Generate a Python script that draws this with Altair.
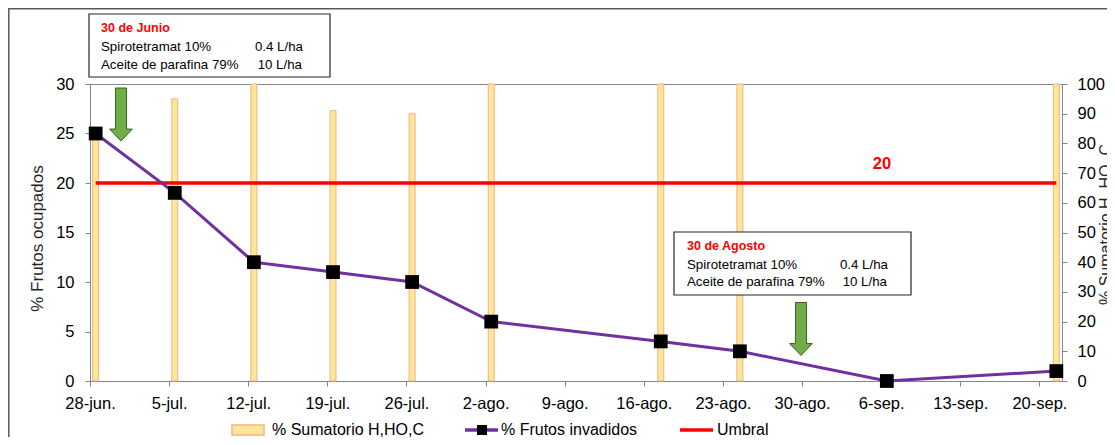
import json
import altair as alt
import pandas as pd

# ---------------- data ----------------
fechas = ["2023-06-28", "2023-07-05", "2023-07-12", "2023-07-19", "2023-07-26",
          "2023-08-02", "2023-08-17", "2023-08-24", "2023-09-06", "2023-09-21"]
frutos_invadidos = [25, 19, 12, 11, 10, 6, 4, 3, 0, 1]
sumatorio = [83, 95, 100, 91, 90, 100, 100, 100, 0, 100]
umbral = [20, 20, 20, 20, 20, 20, 20, 20, 20, 20]
tick_labels = ["28-jun.", "5-jul.", "12-jul.", "19-jul.", "26-jul.", "2-ago.", "9-ago.",
               "16-ago.", "23-ago.", "30-ago.", "6-sep.", "13-sep.", "20-sep."]
tick_days = [0, 7, 14, 21, 28, 35, 42, 49, 56, 63, 70, 77, 84]

start = pd.Timestamp(fechas[0])
df = pd.DataFrame({"fecha": fechas, "frutos": frutos_invadidos,
                   "suma": sumatorio, "umbral": umbral})
df["dia"] = (pd.to_datetime(df["fecha"]) - start).dt.days + 0.5

FONT = "Liberation Sans"
W, H = 972, 297

x_scale = alt.Scale(domain=[0, 86], nice=False, zero=False, padding=0)
x_enc = alt.X("dia:Q", scale=x_scale,
              axis=alt.Axis(values=tick_days, title=None, grid=False,
                            labelExpr=f"{json.dumps(tick_labels)}[round(datum.value/7)]",
                            labelFontSize=16.5, labelPadding=9, tickSize=5,
                            labelFlush=False, labelOverlap=False))

bars = alt.Chart(df).transform_filter("datum.suma > 0").mark_bar(
    size=6, fill="#FFE699", stroke="#F4B183", strokeWidth=1
).encode(
    x=x_enc,
    y=alt.Y("suma:Q", scale=alt.Scale(domain=[0, 100], nice=False, padding=0),
            axis=alt.Axis(orient="right", values=list(range(0, 101, 10)), grid=False,
                          title="% Sumatorio H, HO, C", titleFontSize=16,
                          titleX=35, titleY=140, titleAngle=270, titleAlign="center",
                          titleBaseline="top", labelFontSize=16.5, labelPadding=10,
                          tickSize=5)),
)

y_left = alt.Scale(domain=[0, 30], nice=False, padding=0)
left_axis = alt.Axis(orient="left", values=list(range(0, 31, 5)), grid=False,
                     title="% Frutos ocupados", titleFontSize=17,
                     titleX=-53, titleY=154, titleAngle=270, titleAlign="center",
                     titleBaseline="middle", labelFontSize=16.5, labelPadding=11,
                     tickSize=5)

umbral_line = alt.Chart(df).mark_line(color="#FF0000", strokeWidth=3.5).encode(
    x=alt.X("dia:Q", scale=x_scale), y=alt.Y("umbral:Q", scale=y_left, axis=left_axis))

frutos_line = alt.Chart(df).mark_line(color="#7030A0", strokeWidth=3).encode(
    x=alt.X("dia:Q", scale=x_scale), y=alt.Y("frutos:Q", scale=y_left, axis=left_axis))

frutos_pts = alt.Chart(df).mark_square(size=190, color="black", opacity=1).encode(
    x=alt.X("dia:Q", scale=x_scale), y=alt.Y("frutos:Q", scale=y_left, axis=left_axis))

left_layer = alt.layer(umbral_line, frutos_line, frutos_pts)
dual = alt.layer(bars, left_layer).resolve_scale(y="independent")

one = pd.DataFrame({"a": [0]})


def txt(s, x, y, size=13.3, color="#000", weight="normal", align="left"):
    return alt.Chart(one).mark_text(
        text=s, fontSize=size, color=color, fontWeight=weight, align=align,
        baseline="middle", font=FONT
    ).encode(x=alt.value(x), y=alt.value(y))


def box(x1, y1, x2, y2, fill="white", stroke="#262626", sw=1.2):
    return alt.Chart(one).mark_rect(fill=fill, stroke=stroke, strokeWidth=sw).encode(
        x=alt.value(x1), x2=alt.value(x2), y=alt.value(y1), y2=alt.value(y2))


ARROW = "M -0.21 -1 L 0.21 -1 L 0.21 0.55 L 0.43 0.55 L 0 1 L -0.43 0.55 L -0.21 0.55 Z"


def arrow(x, y):
    return alt.Chart(one).mark_point(
        shape=ARROW, size=2809, filled=True, fill="#70AD47", stroke="#3B5E25",
        strokeWidth=1, opacity=1
    ).encode(x=alt.value(x), y=alt.value(y))


def hrule(x1, x2, y, color, sw):
    return alt.Chart(one).mark_rule(color=color, strokeWidth=sw).encode(
        x=alt.value(x1), x2=alt.value(x2), y=alt.value(y))


annot = [
    # outer chart border (top and left)
    alt.Chart(one).mark_rule(color="#595959", strokeWidth=1.5).encode(
        x=alt.value(-81.2), y=alt.value(-76), y2=alt.value(353)),
    hrule(-82, 1017, -75.2, "#595959", 1.5),
    # box 1
    box(-1, -70, 240, -7),
    txt("30 de Junio", 11, -56, size=12.5, color="#FF0000", weight="bold"),
    txt("Spirotetramat 10%", 11, -37),
    txt("0.4 L/ha", 213, -37, align="right"),
    txt("Aceite de parafina 79%", 11, -19),
    txt("10 L/ha", 212, -19, align="right"),
    # box 2
    box(584, 148, 821, 211),
    txt("30 de Agosto", 597, 162, size=12.5, color="#FF0000", weight="bold"),
    txt("Spirotetramat 10%", 597, 181),
    txt("0.4 L/ha", 798, 181, align="right"),
    txt("Aceite de parafina 79%", 597, 198),
    txt("10 L/ha", 797, 198, align="right"),
    # arrows
    arrow(31, 30.5),
    arrow(711, 245),
    # umbral label
    txt("20", 792, 80, size=16.5, color="#FF0000", weight="bold", align="center"),
    # legend
    box(142, 341, 174, 351, fill="#FFE699", stroke="#F4B183", sw=1.5),
    txt("% Sumatorio H,HO,C", 182, 346, size=16),
    hrule(375, 408, 346, "#7030A0", 3.5),
    alt.Chart(one).mark_square(size=100, color="black", opacity=1).encode(
        x=alt.value(392), y=alt.value(346)),
    txt("% Frutos invadidos", 411, 346, size=16),
    hrule(590, 623, 346, "#FF0000", 3.5),
    txt("Umbral", 627, 346, size=16),
]

chart = alt.layer(dual, *annot).properties(
    width=W, height=H,
    autosize=alt.AutoSizeParams(type="none"),
    padding={"left": 82, "top": 76, "right": 45, "bottom": 56},
    background="white",
).configure_view(stroke="#868686", strokeWidth=1).configure_axis(
    domainColor="#868686", tickColor="#868686", labelColor="#000", titleColor="#262626",
    labelFont=FONT, titleFont=FONT, titleFontWeight="normal"
).configure_text(font=FONT)

chart.save("out.html", embed_options={"renderer": "svg", "actions": False})
